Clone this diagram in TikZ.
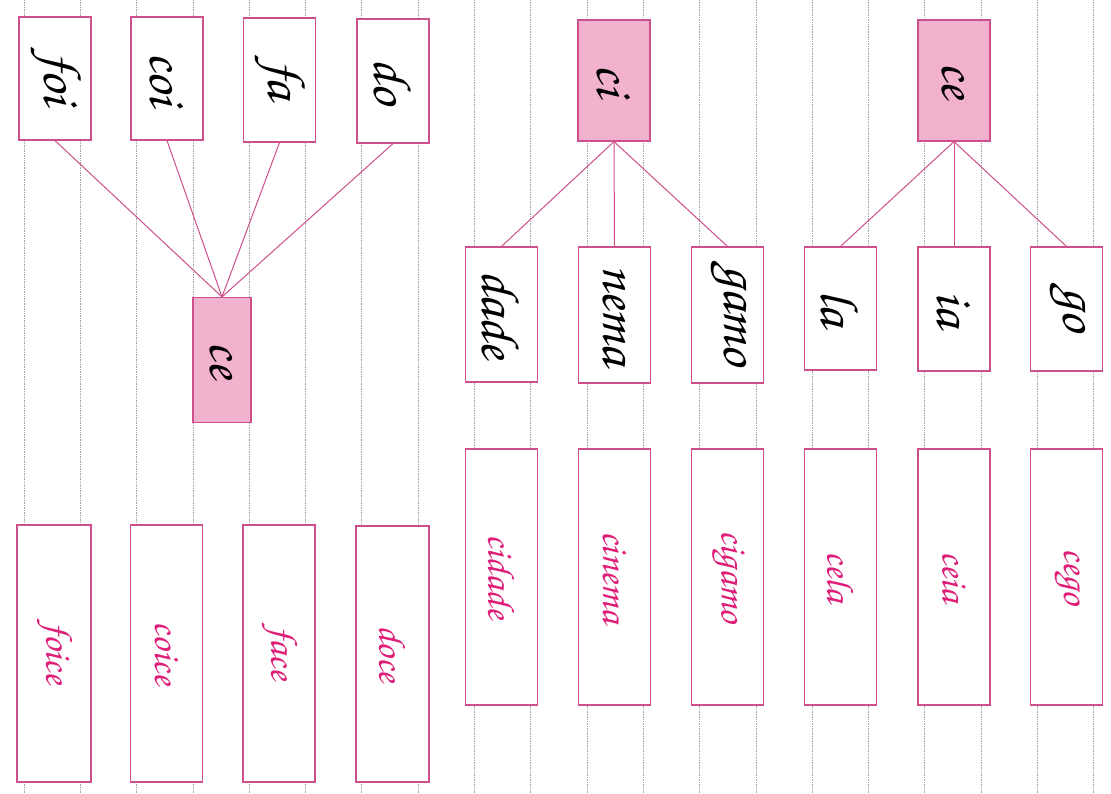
\documentclass[tikz,border=0pt]{standalone}
\usepackage[T1]{fontenc}
\newcommand\cursivefont{\fontencoding{T1}\fontfamily{pzc}\fontseries{mb}\fontshape{it}\selectfont}
\definecolor{boxline}{RGB}{205,80,140}
\definecolor{boxfill}{RGB}{242,178,206}
\definecolor{wordpink}{RGB}{222,30,120}
\definecolor{gridgray}{RGB}{165,165,165}
\tikzset{
  gridline/.style={draw=gridgray, line width=0.7pt, densely dotted},
  wordbox/.style={draw=boxline, fill=white, line width=1.2pt, inner sep=0pt, minimum width=72pt},
  keybox/.style={wordbox, fill=boxfill},
  topword/.style={font=\fontsize{54}{54}\cursivefont, text=black},
  botword/.style={font=\fontsize{38}{38}\cursivefont, text=wordpink},
  conn/.style={draw=boxline, line width=1pt}
}
\newcommand\rot[1]{\rotatebox{-90}{#1}}
\begin{document}
\begin{tikzpicture}[x=1pt,y=-1pt]
\useasboundingbox (0,0) rectangle (1111,793);
\fill[white] (0,0) rectangle (1111,793);
\foreach \i in {0,...,19} {
  \draw[gridline] ({24+56.3*\i},0) -- ({24+56.3*\i},793);
}
% left group: top syllables
\node[wordbox, minimum height=123pt, topword] (foi) at (55,78.5) {\rot{foi}};
\node[wordbox, minimum height=123pt, topword] (coi) at (167,78.5) {\rot{coi}};
\node[wordbox, minimum height=124pt, topword] (fa) at (279.5,80) {\rot{fa}};
\node[wordbox, minimum height=124pt, topword] (do) at (393,81) {\rot{do}};
% left key
\node[keybox, minimum width=58pt, minimum height=125pt, topword] (ceL) at (222,360) {\rot{ce}};
% left bottom words
\node[wordbox, minimum width=74pt, minimum height=257pt, botword] (foice) at (54,653.5) {\rot{foice}};
\node[wordbox, minimum width=72pt, minimum height=257pt, botword] (coice) at (166.5,653.5) {\rot{coice}};
\node[wordbox, minimum width=72pt, minimum height=257pt, botword] (face) at (279,653.5) {\rot{face}};
\node[wordbox, minimum width=73pt, minimum height=256pt, botword] (doce) at (392.5,654) {\rot{doce}};
% right keys
\node[keybox, minimum height=121pt, topword] (ci) at (614,80.5) {\rot{ci}};
\node[keybox, minimum height=121pt, topword] (ceR) at (954,80.5) {\rot{ce}};
% right middle syllables
\node[wordbox, minimum height=135pt, topword] (dade) at (501.5,314.5) {\rot{dade}};
\node[wordbox, minimum height=136pt, topword] (nema) at (614.5,315) {\rot{nema}};
\node[wordbox, minimum height=136pt, topword] (gamo) at (727.5,315) {\rot{gamo}};
\node[wordbox, minimum height=123pt, topword] (la) at (840.5,308.5) {\rot{la}};
\node[wordbox, minimum height=124pt, topword] (ia) at (954,309) {\rot{ia}};
\node[wordbox, minimum height=124pt, topword] (go) at (1066.5,309) {\rot{go}};
% right bottom words
\node[wordbox, minimum height=256pt, botword] (cidade) at (501.5,577) {\rot{cidade}};
\node[wordbox, minimum height=256pt, botword] (cinema) at (614.5,577) {\rot{cinema}};
\node[wordbox, minimum height=256pt, botword] (cigamo) at (727.5,577) {\rot{cigamo}};
\node[wordbox, minimum height=256pt, botword] (cela) at (840.5,577) {\rot{cela}};
\node[wordbox, minimum height=256pt, botword] (ceia) at (954,577) {\rot{ceia}};
\node[wordbox, minimum height=256pt, botword] (cego) at (1066.5,577) {\rot{cego}};
% connectors
\foreach \n in {foi,coi,fa,do} { \draw[conn] (\n.south) -- (ceL.north); }
\foreach \n in {dade,nema,gamo} { \draw[conn] (ci.south) -- (\n.north); }
\foreach \n in {la,ia,go} { \draw[conn] (ceR.south) -- (\n.north); }
\end{tikzpicture}
\end{document}
